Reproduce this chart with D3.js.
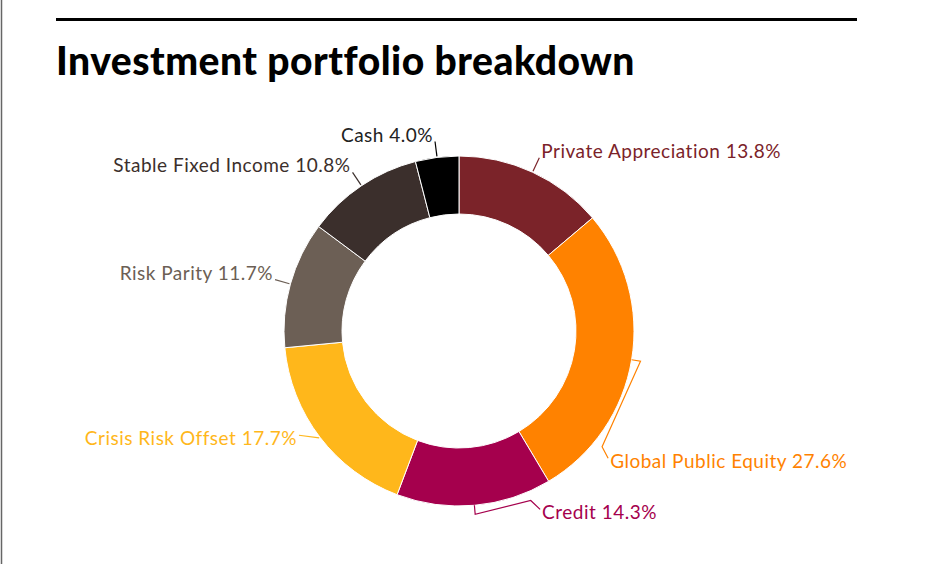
<!DOCTYPE html>
<html>
<head>
<meta charset="utf-8">
<script src="https://cdn.jsdelivr.net/npm/d3@7"></script>
<style>
  body { margin: 0; background: #fff; }
  svg { display: block; font-family: Lato, "Open Sans", sans-serif; }
</style>
</head>
<body>
<svg id="chart" width="932" height="564"></svg>
<script>
const categories = ['Private Appreciation', 'Global Public Equity', 'Credit',
  'Crisis Risk Offset', 'Risk Parity', 'Stable Fixed Income', 'Cash'];
const shares = [13.8, 27.6, 14.3, 17.7, 11.7, 10.8, 4.0];
const colors = ['#7b2329', '#ff8200', '#a5004d', '#ffb71b', '#6c5f55', '#3b2f2c', '#000000'];
const textColors = ['#7b2329', '#ff8200', '#a5004d', '#ffb71b', '#6c5f55', '#3b2f2c', '#222222'];
// labels that had to slide round the ring to find room (degrees)
const labelSlide = [0, 31, -19.4, 4.3, 0, 0, 0];

function create_donut_chart(canvas_id) {
    var svg = d3.select('#' + canvas_id);
    var width = +svg.attr('width');
    var height = +svg.attr('height');
    var cx = 459, cy = 331;
    var outer = 175, inner = 117;

    // page frame
    svg.append('line')
        .attr('x1', 1.5).attr('x2', 1.5).attr('y1', 0).attr('y2', height)
        .attr('stroke', '#666').attr('stroke-width', 1.5);
    svg.append('line')
        .attr('x1', 56).attr('x2', 857).attr('y1', 19.5).attr('y2', 19.5)
        .attr('stroke', '#000').attr('stroke-width', 3);
    svg.append('text')
        .attr('x', 56).attr('y', 75)
        .attr('font-size', 39).attr('font-weight', 900)
        .attr('letter-spacing', 0.5)
        .attr('fill', '#000')
        .text('Investment portfolio breakdown');

    var data = categories.map(function (c, i) {
        return {name: c, value: shares[i], color: colors[i], text: textColors[i], slide: labelSlide[i]};
    });

    var pie = d3.pie().sort(null).value(function (d) { return d.value; });
    var arc = d3.arc().innerRadius(inner).outerRadius(outer);
    var arcs = pie(data);

    var g = svg.append('g').attr('transform', 'translate(' + cx + ',' + cy + ')');

    g.selectAll('path.slice').data(arcs).enter().append('path')
        .attr('class', 'slice')
        .attr('d', arc)
        .attr('fill', function (d) { return d.data.color; })
        .attr('stroke', '#fff')
        .attr('stroke-width', 1);

    function pt(r, a) { return [r * Math.sin(a), -r * Math.cos(a)]; }
    var rad = Math.PI / 180;

    arcs.forEach(function (d) {
        var mid = (d.startAngle + d.endAngle) / 2;
        var la = mid + d.data.slide * rad;
        var pts;
        if (Math.abs(d.data.slide) < 10) {
            // short hop: straight connector
            pts = [pt(outer + 1, mid), pt(outer + 16, la)];
        } else {
            // long slide: step out, run along the ring, step out to label
            var back = d.data.slide > 0 ? -1.5 * rad : 1.5 * rad;
            pts = [pt(outer, mid), pt(outer + 9, mid), pt(outer + 9, la + back), pt(outer + 21, la)];
        }
        g.append('path')
            .attr('d', d3.line()(pts))
            .attr('fill', 'none')
            .attr('stroke', d.data.color)
            .attr('stroke-width', 1.2);

        var end = pts[pts.length - 1];
        var right = Math.sin(la) >= 0;
        var upper = Math.cos(la) > 0;
        g.append('text')
            .attr('x', end[0] + (right ? 2 : -2))
            .attr('y', end[1])
            .attr('dy', upper ? '0em' : '0.5em')
            .attr('text-anchor', right ? 'start' : 'end')
            .attr('font-size', 19)
            .attr('letter-spacing', 0.5)
            .attr('fill', d.data.text)
            .text(d.data.name + ' ' + d.data.value.toFixed(1) + '%');
    });
}

create_donut_chart('chart');
</script>
</body>
</html>
